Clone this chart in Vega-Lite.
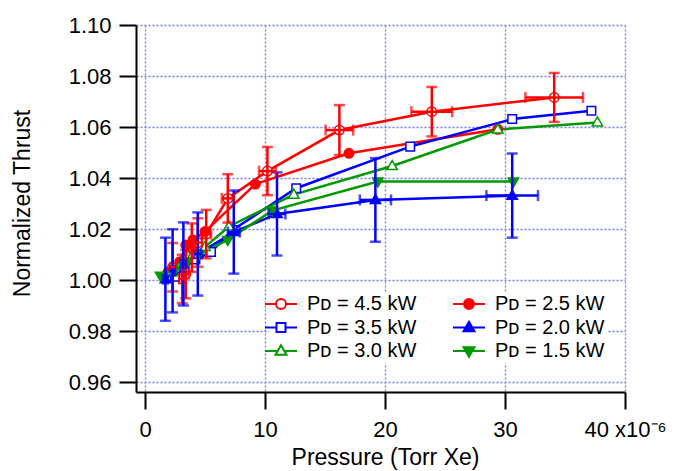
{
  "$schema": "https://vega.github.io/schema/vega-lite/v6.json",
  "width": 489,
  "height": 367,
  "autosize": "none",
  "padding": {"left": 136, "top": 25, "right": 51, "bottom": 79},
  "background": "white",
  "config": {
    "view": {"stroke": null},
    "font": "Liberation Sans",
    "axis": {
      "labelFont": "Liberation Sans",
      "labelFontSize": 22,
      "titleFont": "Liberation Sans",
      "titleFontSize": 23,
      "titleFontWeight": "normal",
      "labelColor": "black",
      "titleColor": "black",
      "domainColor": "black",
      "domainWidth": 2,
      "tickColor": "black",
      "tickWidth": 2,
      "tickSize": 17,
      "gridColor": "#7878ff",
      "gridDash": [2, 2],
      "gridWidth": 1.3,
      "labelFlush": false,
      "labelOverlap": false
    }
  },
  "data": {
    "values": [
      {"s": "4.5", "p": 2.3, "t": 1.005, "ex": 0.2, "ey": 0.0095},
      {"s": "4.5", "p": 3.1, "t": 1.0004, "ex": 0.25, "ey": 0.0095},
      {"s": "4.5", "p": 3.4, "t": 1.0023, "ex": 0.25, "ey": 0.0095},
      {"s": "4.5", "p": 3.9, "t": 1.0127, "ex": 0.3, "ey": 0.0095},
      {"s": "4.5", "p": 4.4, "t": 1.0147, "ex": 0.35, "ey": 0.0095},
      {"s": "4.5", "p": 5.1, "t": 1.018, "ex": 0.4, "ey": 0.0095},
      {"s": "4.5", "p": 6.9, "t": 1.032, "ex": 0.5, "ey": 0.0095},
      {"s": "4.5", "p": 10.2, "t": 1.0427, "ex": 0.7, "ey": 0.0095},
      {"s": "4.5", "p": 16.2, "t": 1.0588, "ex": 1.15, "ey": 0.0098},
      {"s": "4.5", "p": 23.9, "t": 1.066, "ex": 1.7, "ey": 0.0097},
      {"s": "4.5", "p": 34.1, "t": 1.0716, "ex": 2.4, "ey": 0.0096},
      {"s": "2.5", "p": 1.9, "t": 1.003},
      {"s": "2.5", "p": 2.9, "t": 1.0072},
      {"s": "2.5", "p": 3.4, "t": 1.0137},
      {"s": "2.5", "p": 4.0, "t": 1.0157},
      {"s": "2.5", "p": 5.0, "t": 1.019},
      {"s": "2.5", "p": 9.2, "t": 1.0376},
      {"s": "2.5", "p": 17.0, "t": 1.0497},
      {"s": "2.5", "p": 29.4, "t": 1.0591},
      {"s": "3.5", "p": 2.5, "t": 1.0013},
      {"s": "3.5", "p": 3.3, "t": 1.005},
      {"s": "3.5", "p": 4.2, "t": 1.008},
      {"s": "3.5", "p": 5.5, "t": 1.011},
      {"s": "3.5", "p": 7.3, "t": 1.0196},
      {"s": "3.5", "p": 12.6, "t": 1.036},
      {"s": "3.5", "p": 22.1, "t": 1.0523},
      {"s": "3.5", "p": 30.6, "t": 1.0631},
      {"s": "3.5", "p": 37.2, "t": 1.0664},
      {"s": "2.0", "p": 1.7, "t": 1.0003, "ex": 0.2, "ey": 0.0163},
      {"s": "2.0", "p": 2.3, "t": 1.0036, "ex": 0.2, "ey": 0.0163},
      {"s": "2.0", "p": 3.2, "t": 1.0063, "ex": 0.25, "ey": 0.0163},
      {"s": "2.0", "p": 4.4, "t": 1.0102, "ex": 0.3, "ey": 0.0163},
      {"s": "2.0", "p": 7.4, "t": 1.0188, "ex": 0.5, "ey": 0.0163},
      {"s": "2.0", "p": 11.0, "t": 1.0259, "ex": 0.7, "ey": 0.0163},
      {"s": "2.0", "p": 19.2, "t": 1.0314, "ex": 1.3, "ey": 0.0164},
      {"s": "2.0", "p": 30.6, "t": 1.0331, "ex": 2.15, "ey": 0.0165},
      {"s": "3.0", "p": 2.2, "t": 1.003},
      {"s": "3.0", "p": 3.0, "t": 1.006},
      {"s": "3.0", "p": 4.0, "t": 1.01},
      {"s": "3.0", "p": 5.0, "t": 1.013},
      {"s": "3.0", "p": 7.0, "t": 1.021},
      {"s": "3.0", "p": 12.4, "t": 1.0335},
      {"s": "3.0", "p": 20.6, "t": 1.0447},
      {"s": "3.0", "p": 29.4, "t": 1.059},
      {"s": "3.0", "p": 37.7, "t": 1.0618},
      {"s": "1.5", "p": 1.3, "t": 1.0016},
      {"s": "1.5", "p": 2.5, "t": 1.004},
      {"s": "1.5", "p": 3.5, "t": 1.007},
      {"s": "1.5", "p": 4.5, "t": 1.01},
      {"s": "1.5", "p": 6.9, "t": 1.0157},
      {"s": "1.5", "p": 10.6, "t": 1.0272},
      {"s": "1.5", "p": 19.4, "t": 1.0386},
      {"s": "1.5", "p": 30.7, "t": 1.0386}
    ]
  },
  "encoding": {
    "x": {
      "field": "p",
      "type": "quantitative",
      "scale": {"domain": [-0.75, 40], "nice": false, "zero": false},
      "axis": {
        "values": [0, 10, 20, 30, 40],
        "grid": true,
        "title": "Pressure (Torr Xe)",
        "titleX": 249,
        "titleY": 72,
        "titleAlign": "center",
        "titleBaseline": "alphabetic",
        "labelPadding": 10,
        "labelExpr": "datum.value == 40 ? '40 x10⁻⁶' : datum.label"
      }
    },
    "y": {
      "field": "t",
      "type": "quantitative",
      "scale": {"domain": [0.95608, 1.1], "nice": false, "zero": false},
      "axis": {
        "values": [0.96, 0.98, 1.0, 1.02, 1.04, 1.06, 1.08, 1.1],
        "format": ".2f",
        "grid": true,
        "title": "Normalized Thrust",
        "titleX": -114,
        "titleY": 178,
        "titleAngle": -90,
        "titleAlign": "center",
        "titleBaseline": "middle",
        "labelPadding": 8
      }
    }
  },
  "layer": [
    {
      "mark": {"type": "line", "strokeWidth": 2.5},
      "encoding": {
        "stroke": {
          "field": "s",
          "type": "nominal",
          "scale": {"domain": ["4.5", "3.5", "3.0", "2.5", "2.0", "1.5"], "range": ["#ff0000", "#0000ff", "#009900", "#ff0000", "#0000ff", "#009900"]},
          "legend": {
            "orient": "none", "legendX": 133, "legendY": 267, "columns": 2, "title": null,
            "labelExpr": "'Pᴅ = ' + datum.label + ' kW'",
            "symbolSize": 100, "symbolStrokeWidth": 2, "labelOffset": 16, "columnPadding": 32, "rowPadding": 3.5,
            "padding": 2, "fillColor": "white", "labelFontSize": 20, "labelFont": "Liberation Sans", "labelColor": "black",
            "encode": {"symbols": {"update": {"shape": {"signal": "datum.value === '4.5' || datum.value === '2.5' ? 'M-3.2,0H-1M1,0H3.2M-1,0A1,1 0 1,0 1,0A1,1 0 1,0 -1,0Z' : datum.value === '3.5' ? 'M-3.2,0H-0.9M0.9,0H3.2M-0.9,-0.9H0.9V0.9H-0.9Z' : datum.value === '1.5' ? 'M-3.2,0H-0.67M0.67,0H3.2M0,1.15L1.1,-0.75H-1.1Z' : 'M-3.2,0H-0.67M0.67,0H3.2M0,-1.15L1.1,0.75H-1.1Z'"}}}}
          }
        }
      }
    },
    {
      "mark": {"type": "point", "size": 90, "strokeWidth": 1.5, "opacity": 1, "filled": true},
      "encoding": {
        "shape": {
          "field": "s",
          "type": "nominal",
          "scale": {"domain": ["1.5", "2.0", "2.5", "3.0", "3.5", "4.5"], "range": [
            "M0,1.15L1.1,-0.75H-1.1Z",
            "M0,-1.15L1.1,0.75H-1.1Z",
            "M-1,0A1,1 0 1,0 1,0A1,1 0 1,0 -1,0Z",
            "M0,-1.15L1.1,0.75H-1.1Z",
            "M-0.9,-0.9H0.9V0.9H-0.9Z",
            "M-1,0A1,1 0 1,0 1,0A1,1 0 1,0 -1,0Z"
          ]},
          "legend": null
        },
        "stroke": {
          "field": "s",
          "type": "nominal",
          "scale": {"domain": ["4.5", "3.5", "3.0", "2.5", "2.0", "1.5"], "range": ["#ff0000", "#0000ff", "#009900", "#ff0000", "#0000ff", "#009900"]},
          "legend": {
            "orient": "none", "legendX": 133, "legendY": 267, "columns": 2, "title": null,
            "labelExpr": "'Pᴅ = ' + datum.label + ' kW'",
            "symbolSize": 100, "symbolStrokeWidth": 2, "labelOffset": 16, "columnPadding": 32, "rowPadding": 3.5,
            "padding": 2, "fillColor": "white", "labelFontSize": 20, "labelFont": "Liberation Sans", "labelColor": "black",
            "encode": {"symbols": {"update": {"shape": {"signal": "datum.value === '4.5' || datum.value === '2.5' ? 'M-3.2,0H-1M1,0H3.2M-1,0A1,1 0 1,0 1,0A1,1 0 1,0 -1,0Z' : datum.value === '3.5' ? 'M-3.2,0H-0.9M0.9,0H3.2M-0.9,-0.9H0.9V0.9H-0.9Z' : datum.value === '1.5' ? 'M-3.2,0H-0.67M0.67,0H3.2M0,1.15L1.1,-0.75H-1.1Z' : 'M-3.2,0H-0.67M0.67,0H3.2M0,-1.15L1.1,0.75H-1.1Z'"}}}}
          }
        },
        "fill": {
          "field": "s",
          "type": "nominal",
          "scale": {"domain": ["4.5", "3.5", "3.0", "2.5", "2.0", "1.5"], "range": ["#ffffff", "#ffffff", "#ffffff", "#ff0000", "#0000ff", "#009900"]},
          "legend": {
            "orient": "none", "legendX": 133, "legendY": 267, "columns": 2, "title": null,
            "labelExpr": "'Pᴅ = ' + datum.label + ' kW'",
            "symbolSize": 100, "symbolStrokeWidth": 2, "labelOffset": 16, "columnPadding": 32, "rowPadding": 3.5,
            "padding": 2, "fillColor": "white", "labelFontSize": 20, "labelFont": "Liberation Sans", "labelColor": "black",
            "encode": {"symbols": {"update": {"shape": {"signal": "datum.value === '4.5' || datum.value === '2.5' ? 'M-3.2,0H-1M1,0H3.2M-1,0A1,1 0 1,0 1,0A1,1 0 1,0 -1,0Z' : datum.value === '3.5' ? 'M-3.2,0H-0.9M0.9,0H3.2M-0.9,-0.9H0.9V0.9H-0.9Z' : datum.value === '1.5' ? 'M-3.2,0H-0.67M0.67,0H3.2M0,1.15L1.1,-0.75H-1.1Z' : 'M-3.2,0H-0.67M0.67,0H3.2M0,-1.15L1.1,0.75H-1.1Z'"}}}}
          }
        }
      }
    },
    {
      "transform": [{"filter": "isValid(datum.ey)"}],
      "mark": {"type": "errorbar", "ticks": {"thickness": 2.5, "size": 11}, "rule": {"strokeWidth": 2.5}, "size": 11, "thickness": 2.5},
      "encoding": {
        "yError": {"field": "ey"},
        "color": {
          "field": "s",
          "type": "nominal",
          "scale": {"domain": ["4.5", "2.0"], "range": ["#ff0000", "#0000ff"]},
          "legend": null
        }
      }
    },
    {
      "transform": [{"filter": "isValid(datum.ex)"}],
      "mark": {"type": "errorbar", "ticks": {"thickness": 2.5, "size": 11}, "rule": {"strokeWidth": 2.5}, "size": 11, "thickness": 2.5},
      "encoding": {
        "xError": {"field": "ex"},
        "color": {
          "field": "s",
          "type": "nominal",
          "scale": {"domain": ["4.5", "2.0"], "range": ["#ff0000", "#0000ff"]},
          "legend": null
        }
      }
    }
  ]
}
